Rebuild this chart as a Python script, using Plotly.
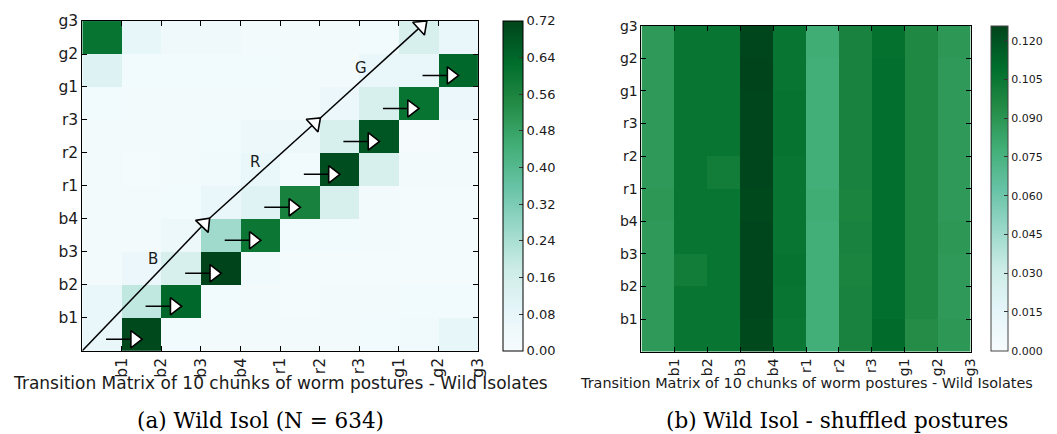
import plotly.graph_objects as go
import numpy as np

# ---------------- data ----------------
labels = ["b1", "b2", "b3", "b4", "r1", "r2", "r3", "g1", "g2", "g3"]

# Left matrix: rows listed bottom (row 0) to top (row 9), columns left to right
wild_rows = [
    [0.07, 0.71, 0.03, 0.02, 0.02, 0.02, 0.02, 0.03, 0.035, 0.08],
    [0.07, 0.20, 0.64, 0.03, 0.02, 0.015, 0.02, 0.02, 0.03, 0.03],
    [0.02, 0.06, 0.14, 0.72, 0.035, 0.015, 0.015, 0.015, 0.015, 0.015],
    [0.02, 0.02, 0.05, 0.26, 0.60, 0.03, 0.03, 0.02, 0.015, 0.015],
    [0.02, 0.02, 0.03, 0.07, 0.11, 0.57, 0.14, 0.02, 0.015, 0.015],
    [0.02, 0.015, 0.02, 0.035, 0.07, 0.03, 0.70, 0.14, 0.02, 0.02],
    [0.02, 0.02, 0.02, 0.03, 0.05, 0.05, 0.14, 0.68, 0.01, 0.02],
    [0.03, 0.02, 0.02, 0.02, 0.02, 0.02, 0.06, 0.14, 0.61, 0.06],
    [0.12, 0.03, 0.03, 0.03, 0.03, 0.02, 0.02, 0.07, 0.07, 0.64],
    [0.61, 0.08, 0.04, 0.04, 0.02, 0.02, 0.02, 0.03, 0.14, 0.07],
]

# Right matrix (shuffled): rows bottom to top
shuf_rows = [
    [0.088, 0.106, 0.106, 0.124, 0.105, 0.078, 0.099, 0.111, 0.094, 0.089],
    [0.088, 0.106, 0.106, 0.125, 0.106, 0.078, 0.099, 0.109, 0.096, 0.088],
    [0.088, 0.102, 0.106, 0.125, 0.107, 0.078, 0.098, 0.109, 0.096, 0.088],
    [0.088, 0.106, 0.106, 0.125, 0.106, 0.078, 0.099, 0.109, 0.096, 0.089],
    [0.089, 0.106, 0.106, 0.124, 0.106, 0.079, 0.098, 0.109, 0.096, 0.088],
    [0.088, 0.106, 0.102, 0.125, 0.106, 0.078, 0.099, 0.109, 0.096, 0.088],
    [0.088, 0.106, 0.106, 0.125, 0.107, 0.078, 0.099, 0.109, 0.096, 0.088],
    [0.088, 0.106, 0.106, 0.125, 0.107, 0.078, 0.099, 0.109, 0.096, 0.088],
    [0.088, 0.106, 0.106, 0.1258, 0.106, 0.078, 0.099, 0.109, 0.096, 0.088],
    [0.088, 0.106, 0.106, 0.125, 0.106, 0.079, 0.099, 0.108, 0.096, 0.089],
]

left_cb_ticks = [0.00, 0.08, 0.16, 0.24, 0.32, 0.40, 0.48, 0.56, 0.64, 0.72]
right_cb_ticks = [0.000, 0.015, 0.030, 0.045, 0.060, 0.075, 0.090, 0.105, 0.120]

# annotation geometry (data units of left panel)
diag_x = [0.0, 3.21, 6.01, 8.70]
diag_y = [0.0, 4.01, 7.05, 9.99]
phase_letters = ["B", "R", "G"]
phase_x = [1.79, 4.37, 7.05]
phase_y = [2.78, 5.71, 8.58]
small_tail_x = [0.6, 1.6, 2.6, 3.6, 4.6, 5.6, 6.6, 7.6, 8.6]
small_head_x = [1.50, 2.50, 3.50, 4.50, 5.50, 6.50, 7.50, 8.50, 9.50]
small_y = [0.35, 1.35, 2.35, 3.35, 4.35, 5.35, 6.35, 7.35, 8.35]

title_text = "Transition Matrix of 10 chunks of worm postures - Wild Isolates"
caption_a = "(a) Wild Isol (N = 634)"
caption_b = "(b) Wild Isol - shuffled postures"

# ---------------- figure ----------------
W, H = 1057, 434
FONT = "DejaVu Sans"
TXT = "#1a1a1a"

centers = np.arange(len(labels)) + 0.5
ticks = np.arange(1, len(labels) + 1)

fig = go.Figure()

fig.add_trace(go.Heatmap(
    z=wild_rows, x=centers, y=centers, colorscale="BuGn", zmin=0, zmax=0.72,
    xaxis="x", yaxis="y", showscale=True, hoverinfo="skip",
    colorbar=dict(
        x=507 / W, xanchor="left", xpad=0, ypad=0,
        y=1 - (12.3 + 349) / 2 / H, yanchor="middle", lenmode="fraction",
        len=(349 - 12.3) / H, thickness=20, outlinewidth=1, outlinecolor="black",
        tickvals=left_cb_ticks, ticktext=[f"{v:.2f}" for v in left_cb_ticks],
        ticks="inside", ticklen=4, tickcolor="#333",
        tickfont=dict(family=FONT, size=13, color=TXT),
    ),
))

fig.add_trace(go.Heatmap(
    z=shuf_rows, x=centers, y=centers, colorscale="BuGn", zmin=0, zmax=0.1258,
    xaxis="x2", yaxis="y2", showscale=True, hoverinfo="skip",
    colorbar=dict(
        x=1000 / W, xanchor="left", xpad=0, ypad=0,
        y=1 - (17 + 349) / 2 / H, yanchor="middle", lenmode="fraction",
        len=(349 - 17) / H, thickness=17, outlinewidth=1, outlinecolor="#444",
        tickvals=right_cb_ticks, ticktext=[f"{v:.3f}" for v in right_cb_ticks],
        ticks="inside", ticklen=4, tickcolor="#333",
        tickfont=dict(family=FONT, size=11, color=TXT),
    ),
))

arrow_marker = lambda sizes: dict(
    symbol="triangle-up", size=sizes, angleref="previous", standoff=7,
    color="rgb(255,255,255)", opacity=1, line=dict(color="black", width=1.6))

# big diagonal arrows
fig.add_trace(go.Scatter(
    x=diag_x, y=diag_y, mode="lines+markers", xaxis="x", yaxis="y",
    line=dict(color="black", width=1.5), opacity=1,
    marker=arrow_marker([0, 15, 15, 15]),
    hoverinfo="skip", showlegend=False,
))

# small arrows
for tx, hx, yy in zip(small_tail_x, small_head_x, small_y):
    fig.add_trace(go.Scatter(
        x=[tx, hx], y=[yy, yy], mode="lines+markers", xaxis="x", yaxis="y",
        line=dict(color="black", width=1.5), opacity=1,
        marker=arrow_marker([0, 15]),
        hoverinfo="skip", showlegend=False,
    ))

annotations = []
for t, px, py in zip(phase_letters, phase_x, phase_y):
    annotations.append(dict(x=px, y=py, xref="x", yref="y", text=t, showarrow=False,
                            font=dict(family=FONT, size=15, color=TXT)))

annotations += [
    dict(x=282.5 / W, y=1 - 382 / H, xref="paper", yref="paper", text=title_text,
         showarrow=False, xanchor="center", yanchor="middle",
         font=dict(family=FONT, size=17, color=TXT)),
    dict(x=813 / W, y=1 - 382 / H, xref="paper", yref="paper", text=title_text,
         showarrow=False, xanchor="center", yanchor="middle",
         font=dict(family=FONT, size=14.4, color=TXT)),
    dict(x=263 / W, y=1 - 420 / H, xref="paper", yref="paper", text=caption_a,
         showarrow=False, xanchor="center", yanchor="middle",
         font=dict(family="DejaVu Serif", size=21.5, color="black")),
    dict(x=844 / W, y=1 - 420 / H, xref="paper", yref="paper", text=caption_b,
         showarrow=False, xanchor="center", yanchor="middle",
         font=dict(family="DejaVu Serif", size=21.5, color="black")),
]

axis_common = dict(range=[0, 10], tickvals=ticks, ticktext=labels, showgrid=False,
                   zeroline=False, showline=True, linecolor="black", linewidth=1,
                   mirror="allticks", ticks="inside", ticklen=5, tickcolor="black",
                   fixedrange=True)

fig.update_layout(
    width=W, height=H, margin=dict(l=0, r=0, t=0, b=0),
    paper_bgcolor="white", plot_bgcolor="white",
    xaxis=dict(domain=[83 / W, 482 / W], anchor="y", tickangle=-90,
               tickfont=dict(family=FONT, size=15.5, color=TXT), **axis_common),
    yaxis=dict(domain=[1 - 349 / H, 1 - 12.3 / H], anchor="x",
               tickfont=dict(family=FONT, size=15.5, color=TXT), **axis_common),
    xaxis2=dict(domain=[647 / W, 979 / W], anchor="y2", tickangle=-90,
                tickfont=dict(family=FONT, size=14, color=TXT), **axis_common),
    yaxis2=dict(domain=[1 - 350 / H, 1 - 17 / H], anchor="x2",
                tickfont=dict(family=FONT, size=14, color=TXT), **axis_common),
    annotations=annotations,
    showlegend=False,
)

fig.write_html("out.html")
